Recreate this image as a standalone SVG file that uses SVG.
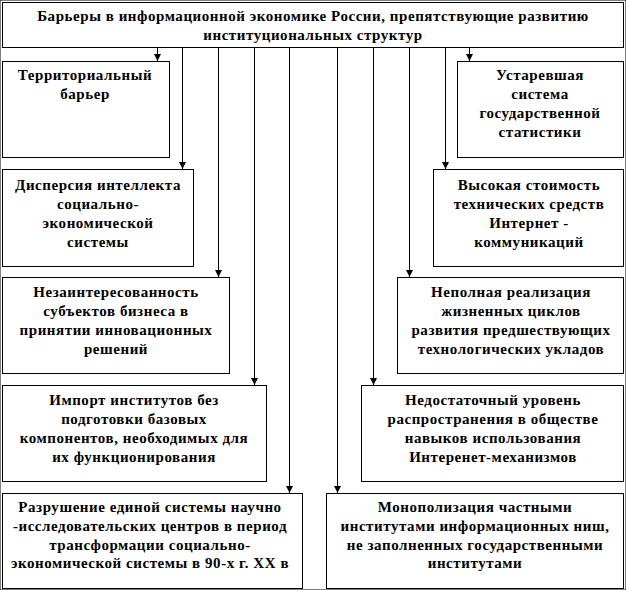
<svg xmlns="http://www.w3.org/2000/svg" width="626" height="590" viewBox="0 0 626 590">
<style>
rect{fill:#fff;stroke:#000;stroke-width:1}
text{font-family:'Liberation Serif','Times New Roman','DejaVu Serif',serif;font-weight:700;font-size:15px;letter-spacing:0.55px;fill:#000;text-anchor:middle}
.c line{stroke:#000;stroke-width:1}
</style>
<defs>
<marker id="ah" markerWidth="8" markerHeight="8" refX="7" refY="4" orient="auto" markerUnits="userSpaceOnUse" viewBox="0 0 8 8">
<path d="M0,0.5 L7,4 L0,7.5 Z" fill="#000"/>
</marker>
</defs>
<rect width="626" height="590" fill="#fff" stroke="none"/>
<g id="top">
<rect x="2.5" y="2.5" width="621" height="45"/>
<text x="313" y="21">Барьеры в информационной экономике России, препятствующие развитию</text>
<text x="313" y="40">институциональных структур</text>
</g>
<g class="c" id="connectors">
<line x1="157.5" y1="48" x2="157.5" y2="61" marker-end="url(#ah)"/>
<line x1="182.5" y1="48" x2="182.5" y2="169" marker-end="url(#ah)"/>
<line x1="218.5" y1="48" x2="218.5" y2="277" marker-end="url(#ah)"/>
<line x1="254.5" y1="48" x2="254.5" y2="385" marker-end="url(#ah)"/>
<line x1="289.5" y1="48" x2="289.5" y2="493" marker-end="url(#ah)"/>
<line x1="337.5" y1="48" x2="337.5" y2="493" marker-end="url(#ah)"/>
<line x1="373.5" y1="48" x2="373.5" y2="385" marker-end="url(#ah)"/>
<line x1="409.5" y1="48" x2="409.5" y2="277" marker-end="url(#ah)"/>
<line x1="445.5" y1="48" x2="445.5" y2="169" marker-end="url(#ah)"/>
<line x1="469.5" y1="48" x2="469.5" y2="61" marker-end="url(#ah)"/>
</g>
<g id="territorial">
<rect x="2.5" y="61.5" width="167" height="96"/>
<text x="85" y="80">Территориальный</text>
<text x="85" y="99">барьер</text>
</g>
<g id="statistics">
<rect x="457.5" y="61.5" width="166" height="96"/>
<text x="540" y="80">Устаревшая</text>
<text x="540" y="99">система</text>
<text x="540" y="118">государственной</text>
<text x="540" y="137">статистики</text>
</g>
<g id="dispersion">
<rect x="2.5" y="169.5" width="191" height="97"/>
<text x="98" y="190">Дисперсия интеллекта</text>
<text x="98" y="209">социально-</text>
<text x="98" y="228">экономической</text>
<text x="98" y="247">системы</text>
</g>
<g id="cost">
<rect x="433.5" y="169.5" width="190" height="97"/>
<text x="529" y="190">Высокая стоимость</text>
<text x="529" y="209">технических средств</text>
<text x="529" y="228">Интернет -</text>
<text x="529" y="247">коммуникаций</text>
</g>
<g id="disinterest">
<rect x="2.5" y="277.5" width="227" height="96"/>
<text x="116" y="297">Незаинтересованность</text>
<text x="116" y="316">субъектов бизнеса в</text>
<text x="116" y="335">принятии инновационных</text>
<text x="116" y="354">решений</text>
</g>
<g id="cycles">
<rect x="397.5" y="277.5" width="226" height="96"/>
<text x="511" y="297">Неполная реализация</text>
<text x="511" y="316">жизненных циклов</text>
<text x="511" y="335">развития предшествующих</text>
<text x="511" y="354">технологических укладов</text>
</g>
<g id="import">
<rect x="2.5" y="385.5" width="264" height="96"/>
<text x="134" y="405">Импорт институтов без</text>
<text x="134" y="424">подготовки базовых</text>
<text x="134" y="443">компонентов, необходимых для</text>
<text x="134" y="462">их функционирования</text>
</g>
<g id="skills">
<rect x="361.5" y="385.5" width="262" height="96"/>
<text x="493" y="405">Недостаточный уровень</text>
<text x="493" y="424">распространения в обществе</text>
<text x="493" y="443">навыков использования</text>
<text x="493" y="462">Интеренет-механизмов</text>
</g>
<g id="destruction">
<rect x="2.5" y="493.5" width="300" height="95"/>
<text x="150" y="512">Разрушение единой системы научно</text>
<text x="150" y="531">-исследовательских центров в период</text>
<text x="150" y="550">трансформации социально-</text>
<text x="150" y="568">экономической системы в 90-х г. XX в</text>
</g>
<g id="monopoly">
<rect x="326.5" y="493.5" width="297" height="95"/>
<text x="475" y="512">Монополизация частными</text>
<text x="475" y="531">институтами информационных ниш,</text>
<text x="475" y="550">не заполненных государственными</text>
<text x="475" y="568">институтами</text>
</g>
</svg>
